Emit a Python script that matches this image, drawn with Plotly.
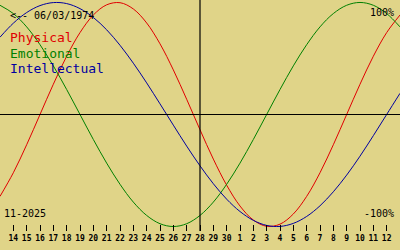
import pandas as pd
import plotly.graph_objects as go

# ---- data (one point per day) ----
dates = [d.strftime("%Y-%m-%d") for d in pd.date_range("2025-11-13", "2025-12-13", freq="D")]

physical = [-0.731, -0.520, -0.270, 0.000, 0.270, 0.520, 0.731, 0.888, 0.979, 0.998,
            0.942, 0.817, 0.631, 0.398, 0.136, -0.136, -0.398, -0.631, -0.817, -0.942,
            -0.998, -0.979, -0.888, -0.731, -0.520, -0.270, 0.000, 0.270, 0.520, 0.731,
            0.888]
emotional = [0.975, 0.901, 0.782, 0.623, 0.434, 0.223, 0.000, -0.223, -0.434, -0.623,
             -0.782, -0.901, -0.975, -1.000, -0.975, -0.901, -0.782, -0.623, -0.434, -0.223,
             0.000, 0.223, 0.434, 0.623, 0.782, 0.901, 0.975, 1.000, 0.975, 0.901,
             0.782]
intellectual = [0.690, 0.815, 0.910, 0.972, 0.999, 0.990, 0.945, 0.866, 0.756, 0.618,
                0.458, 0.282, 0.095, -0.095, -0.282, -0.458, -0.618, -0.756, -0.866, -0.945,
                -0.990, -0.999, -0.972, -0.910, -0.815, -0.690, -0.541, -0.372, -0.189, 0.000,
                0.189]

tick_dates = dates[1:-1]
tick_labels = [str(pd.Timestamp(d).day) for d in tick_dates]
today = "2025-11-28"
birth_label = "<-- 06/03/1974"
month_label = "11-2025"
series_names = ["Physical", "Emotional", "Intellectual"]

# ---- style ----
BG = "#E0D488"
COLORS = ["#E00000", "#008000", "#0000A0"]
W, H = 400, 250
MB = 19
PH = H - MB

def py(p):
    return 1 - p / PH

fig = go.Figure()
for name, vals, col in zip(series_names, [physical, emotional, intellectual], COLORS):
    fig.add_trace(go.Scatter(x=dates, y=vals, mode="lines", name=name,
                             line=dict(color=col, width=1, shape="spline", smoothing=1.0),
                             hoverinfo="skip"))

fig.add_shape(type="line", xref="paper", yref="y", x0=0, x1=1, y0=0, y1=0,
              line=dict(color="black", width=1.2))
fig.add_shape(type="line", xref="x", yref="paper", x0=today, x1=today, y0=0, y1=1,
              line=dict(color="black", width=1.2))

mono = "DejaVu Sans Mono"
ann = []
ann.append(dict(text=birth_label, x=9 / W, y=py(16), font=dict(family=mono, size=10, color="black"),
                xanchor="left", yanchor="middle"))
for i, (name, col) in enumerate(zip(series_names, COLORS)):
    ann.append(dict(text=name, x=9 / W, y=py(38 + 15 * i),
                    font=dict(family=mono, size=13, color=col),
                    xanchor="left", yanchor="middle"))
ann.append(dict(text="100%", x=395 / W, y=py(12), font=dict(family=mono, size=10, color="black"),
                xanchor="right", yanchor="middle"))
ann.append(dict(text="-100%", x=395 / W, y=py(213), font=dict(family=mono, size=10, color="black"),
                xanchor="right", yanchor="middle"))
ann.append(dict(text=month_label, x=3 / W, y=py(213), font=dict(family=mono, size=10, color="black"),
                xanchor="left", yanchor="middle"))
for a in ann:
    a.update(xref="paper", yref="paper", showarrow=False, borderpad=0)

fig.update_layout(
    width=W, height=H,
    margin=dict(l=0, r=0, t=0, b=MB),
    paper_bgcolor=BG, plot_bgcolor=BG,
    showlegend=False,
    annotations=ann,
    xaxis=dict(range=[dates[0], dates[-1]], tickmode="array", tickvals=tick_dates,
               ticktext=tick_labels, ticks="inside", ticklen=6, tickwidth=1,
               tickcolor="black", showgrid=False, zeroline=False, showline=False,
               ticklabelstandoff=1,
               tickfont=dict(family=mono, size=8, color="black", weight="bold")),
    yaxis=dict(range=[-1.040, 1.022], showticklabels=False, showgrid=False,
               zeroline=False, ticks="", showline=False),
)

fig.write_html("out.html")
